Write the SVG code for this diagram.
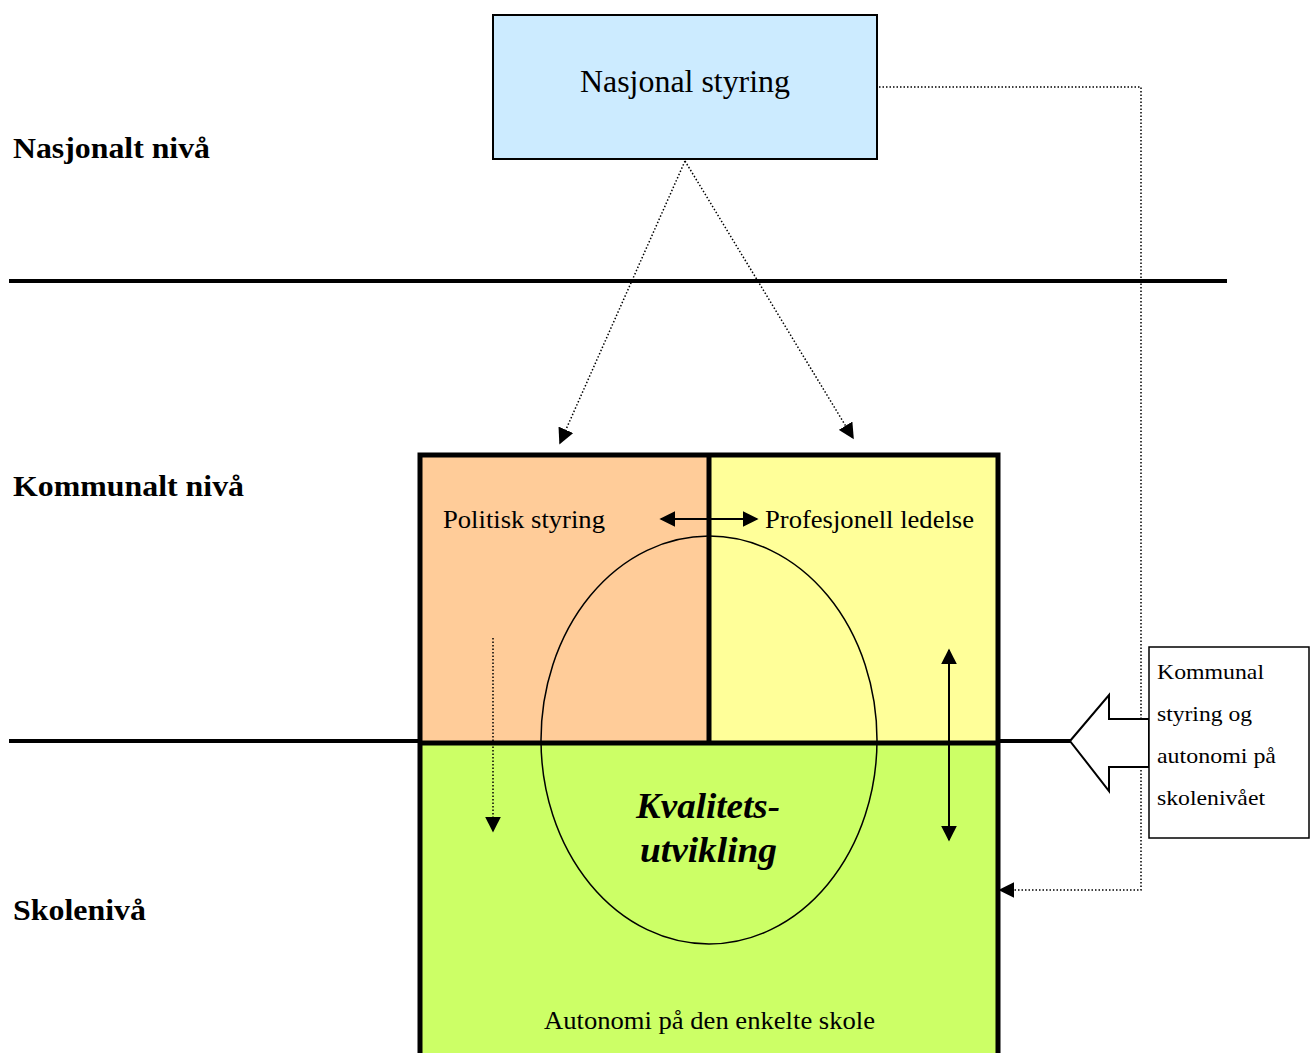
<svg xmlns="http://www.w3.org/2000/svg" width="1314" height="1053" viewBox="0 0 1314 1053">
  <style>
    text { font-family: "Liberation Serif", "Times New Roman", serif; fill: #000; }
    .lvl { font-weight: bold; font-size: 29px; }
    .lbl { font-size: 26px; }
    .side { font-size: 22px; }
    .dot { fill: none; stroke: #000; stroke-width: 1.5; stroke-dasharray: 1.5 2; }
    .solid { fill: none; stroke: #000; stroke-width: 2; }
  </style>
  <defs>
    <marker id="ahL" viewBox="0 0 10 10" refX="9" refY="5" markerWidth="16" markerHeight="16" markerUnits="userSpaceOnUse" orient="auto-start-reverse">
      <path d="M0,0 L10,5 L0,10 z" fill="#000"/>
    </marker>
  </defs>

  <rect width="1314" height="1053" fill="#fff"/>

  <!-- level labels -->
  <g id="levels">
    <text class="lvl" x="13" y="158" textLength="197" lengthAdjust="spacingAndGlyphs">Nasjonalt nivå</text>
    <text class="lvl" x="13" y="496" textLength="231" lengthAdjust="spacingAndGlyphs">Kommunalt nivå</text>
    <text class="lvl" x="13" y="920" textLength="133" lengthAdjust="spacingAndGlyphs">Skolenivå</text>
  </g>

  <!-- level separators -->
  <g id="separators" stroke="#000" stroke-width="4">
    <line x1="9" y1="281" x2="1227" y2="281"/>
    <line x1="9" y1="741" x2="1072" y2="741"/>
  </g>

  <!-- national node -->
  <g id="nasjonal">
    <rect x="493" y="15" width="384" height="144" fill="#CCEBFF" stroke="#000" stroke-width="2"/>
    <text x="580" y="92" font-size="31" textLength="210" lengthAdjust="spacingAndGlyphs">Nasjonal styring</text>
  </g>

  <!-- municipal / school block -->
  <g id="blokk">
    <rect x="420" y="455" width="289" height="286" fill="#FFCC99"/>
    <rect x="709" y="455" width="289" height="286" fill="#FFFF99"/>
    <rect x="420" y="741" width="578" height="320" fill="#CCFF66"/>
    <path d="M420,1060 V455 H998 V1060" fill="none" stroke="#000" stroke-width="5"/>
    <line x1="709" y1="455" x2="709" y2="741" stroke="#000" stroke-width="5"/>
    <line x1="420" y1="743" x2="998" y2="743" stroke="#000" stroke-width="5"/>
  </g>

  <!-- quality ellipse -->
  <g id="kvalitet">
    <ellipse cx="709" cy="740" rx="168" ry="204" fill="none" stroke="#000" stroke-width="1.5"/>
    <text x="636" y="818" font-size="35" font-weight="bold" font-style="italic" textLength="144" lengthAdjust="spacingAndGlyphs">Kvalitets-</text>
    <text x="640" y="862" font-size="35" font-weight="bold" font-style="italic" textLength="137" lengthAdjust="spacingAndGlyphs">utvikling</text>
  </g>

  <g id="politisk">
    <text class="lbl" x="443" y="528" textLength="162" lengthAdjust="spacingAndGlyphs">Politisk styring</text>
  </g>
  <g id="profesjonell">
    <text class="lbl" x="765" y="528" textLength="209" lengthAdjust="spacingAndGlyphs">Profesjonell ledelse</text>
  </g>
  <g id="autonomi">
    <text class="lbl" x="544" y="1029" textLength="331" lengthAdjust="spacingAndGlyphs">Autonomi på den enkelte skole</text>
  </g>

  <!-- connectors -->
  <g id="connectors">
    <line class="dot" x1="685" y1="161" x2="560" y2="443" marker-end="url(#ahL)"/>
    <line class="dot" x1="685" y1="161" x2="853" y2="438" marker-end="url(#ahL)"/>
    <polyline class="dot" points="879,87 1141,87 1141,890 1000,890" marker-end="url(#ahL)"/>
    <line class="solid" x1="661" y1="519" x2="757" y2="519" marker-start="url(#ahL)" marker-end="url(#ahL)"/>
    <line class="dot" x1="493" y1="638" x2="493" y2="831" marker-end="url(#ahL)"/>
    <line class="solid" x1="949" y1="650" x2="949" y2="840" marker-start="url(#ahL)" marker-end="url(#ahL)"/>
  </g>

  <!-- side note with block arrow -->
  <g id="kommunal">
    <polygon points="1070,741 1109,695 1109,719 1149,719 1149,767 1109,767 1109,791" fill="#fff" stroke="#000" stroke-width="2"/>
    <rect x="1149" y="647" width="160" height="191" fill="#fff" stroke="#000" stroke-width="1.5"/>
    <text class="side" x="1157" y="679" textLength="107" lengthAdjust="spacingAndGlyphs">Kommunal</text>
    <text class="side" x="1157" y="721" textLength="95" lengthAdjust="spacingAndGlyphs">styring og</text>
    <text class="side" x="1157" y="763" textLength="119" lengthAdjust="spacingAndGlyphs">autonomi på</text>
    <text class="side" x="1157" y="805" textLength="108" lengthAdjust="spacingAndGlyphs">skolenivået</text>
  </g>
</svg>
